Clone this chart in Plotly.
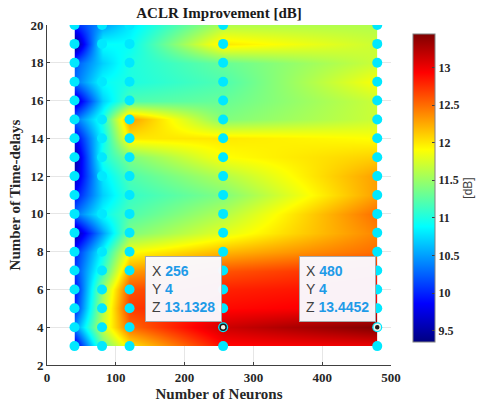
import plotly.graph_objects as go

neurons = [40, 80, 120, 256, 480]
delays = list(range(3, 21))

# ACLR improvement [dB]; one list per neuron count, values for delays 3..20
z_n40  = [9.7, 10.4, 10.0, 9.9, 10.1, 10.0, 9.5, 10.3, 9.9, 9.6, 9.5, 9.8, 10.3, 9.6, 10.3, 10.2, 9.35, 10.0]
z_n80  = [11.3, 11.7, 11.6, 11.5, 11.1, 10.9, 10.5, 10.9, 10.7, 10.8, 11.0, 10.9, 11.0, 10.7, 10.9, 10.7, 10.9, 10.5]
z_n120 = [12.0, 12.5, 12.7, 12.6, 12.3, 11.9, 11.4, 11.2, 11.1, 11.2, 11.4, 12.0, 12.3, 11.2, 11.0, 11.0, 10.9, 10.8]
z_n256 = [12.9, 13.1328, 12.9, 12.8, 12.6, 12.2, 11.8, 11.6, 11.4, 11.6, 11.9, 12.0, 11.4, 11.3, 11.2, 11.3, 12.0, 11.6]
z_n480 = [13.0, 13.4452, 13.0, 12.9, 12.8, 12.5, 12.4, 12.5, 12.3, 12.3, 12.1, 11.9, 11.7, 11.7, 11.9, 11.7, 11.7, 11.6]

cols = [z_n40, z_n80, z_n120, z_n256, z_n480]
z = [[cols[j][i] for j in range(len(neurons))] for i in range(len(delays))]

# sample points that are visible as markers (hidden ones at N=80 omitted)
hidden = {(80, 18), (80, 16), (80, 11), (80, 9)}
px = [n for n in neurons for d in delays if (n, d) not in hidden]
py = [d for n in neurons for d in delays if (n, d) not in hidden]

tip_x = [256, 480]
tip_y = [4, 4]
tip_z = [13.1328, 13.4452]

jet = [[0.0, 'rgb(0,0,128)'], [0.125, 'rgb(0,0,255)'], [0.375, 'rgb(0,255,255)'],
       [0.625, 'rgb(255,255,0)'], [0.875, 'rgb(255,0,0)'], [1.0, 'rgb(128,0,0)']]

serif = 'Liberation Serif'
sans = 'Liberation Sans'

fig = go.Figure()
fig.add_trace(go.Contour(
    x=neurons, y=delays, z=z, colorscale=jet, zmin=9.35, zmax=13.4452,
    contours=dict(coloring='heatmap', showlines=False),
    line=dict(width=0),
    colorbar=dict(
        x=1.064, xanchor='left', xpad=0, y=0.5206, yanchor='middle', len=0.965,
        thickness=22, outlinewidth=1, outlinecolor='#808080',
        ticks='inside', ticklen=3, tickcolor='#404040',
        tickvals=[9.5, 10, 10.5, 11, 11.5, 12, 12.5, 13],
        ticktext=['9.5', '10', '10.5', '11', '11.5', '12', '12.5', '13'],
        tickfont=dict(family=serif, size=12, color='#262626', weight='bold'),
        title=dict(text='[dB]', side='right', font=dict(family=sans, size=12, color='#404040')),
    ),
    hoverinfo='skip',
))
fig.add_trace(go.Scatter(
    x=px, y=py, mode='markers',
    marker=dict(size=10, color='rgb(0,232,255)', line=dict(width=0)),
    hoverinfo='skip', showlegend=False,
))
fig.add_trace(go.Scatter(
    x=tip_x, y=tip_y, mode='markers',
    marker=dict(size=6, color=['#f2f2e6', '#1a1a1a'],
                line=dict(width=1.5, color=['#1a1a1a', '#f2f2e6'])),
    hoverinfo='skip', showlegend=False,
))

for xv, yv, zv in zip(tip_x, tip_y, tip_z):
    blue = "<span style='color:#1e9be8'><b>%s</b></span>"
    txt = ("X " + blue % f"{xv}" + "<br>Y " + blue % f"{yv}" + "<br>Z " + blue % f"{zv:.4f}")
    fig.add_annotation(
        x=xv, y=yv, xref='x', yref='y', text=txt, showarrow=False,
        xanchor='right', yanchor='bottom', align='left', xshift=-1, yshift=5,
        font=dict(family=sans, size=14, color='#404040'),
        bgcolor='rgba(250,250,255,0.97)', bordercolor='#a8a8a8', borderwidth=1, borderpad=6,
    )

axis_common = dict(
    showline=True, linecolor='#404040', linewidth=1, mirror=False,
    ticks='inside', ticklen=3, tickcolor='#404040',
    showgrid=True, gridcolor='#e6e6e6', gridwidth=1, zeroline=False,
    tickfont=dict(family=serif, size=13, color='#262626', weight='bold'),
)

fig.update_layout(
    width=484, height=405,
    margin=dict(l=47, r=93, t=25, b=40, autoexpand=False),
    paper_bgcolor='white', plot_bgcolor='white',
    showlegend=False,
    title=dict(text='<b>ACLR Improvement [dB]</b>', x=0.5, xref='paper', xanchor='center',
               y=1 - 13 / 405, yref='container', yanchor='middle',
               font=dict(family=serif, size=15, color='#1a1a1a')),
    xaxis=dict(range=[0, 500], tickvals=[0, 100, 200, 300, 400, 500],
               title=dict(text='<b>Number of Neurons</b>', standoff=4,
                          font=dict(family=serif, size=15, color='#262626')),
               **axis_common),
    yaxis=dict(range=[2, 20], tickvals=[2, 4, 6, 8, 10, 12, 14, 16, 18, 20],
               title=dict(text='<b>Number of Time-delays</b>', standoff=6,
                          font=dict(family=serif, size=15, color='#262626')),
               **axis_common),
)

fig.write_html("out.html")
